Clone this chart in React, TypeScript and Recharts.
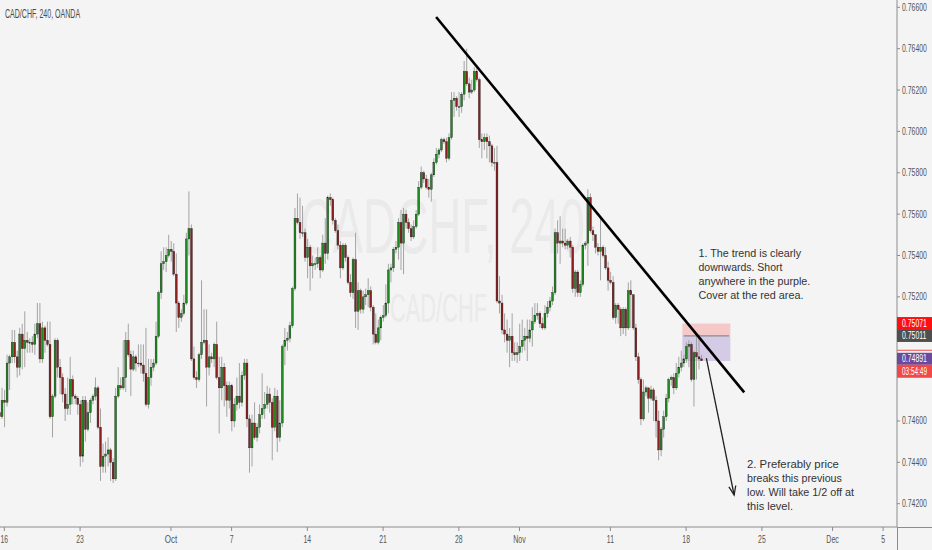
import React from 'react';
import { ComposedChart, Bar, XAxis, YAxis, ReferenceLine, ReferenceArea } from 'recharts';

// 4-hour candles, [open, high, low, close] in pips (price x 10000)
const candlesMidSep = [
  [7464,7470,7453,7462],[7462,7476,7461,7470],[7470,7475,7457,7469],[7469,7492,7467,7488],[7488,7492,7475,7491],
  [7491,7504,7488,7498],[7498,7504,7488,7491],[7491,7494,7481,7486],[7486,7505,7482,7502],[7502,7507,7485,7495],
  [7495,7513,7486,7499],[7499,7503,7493,7498],[7498,7500,7493,7498],[7498,7501,7493,7497],[7497,7507,7492,7502],
  [7502,7517,7500,7507],[7507,7517,7488,7490],[7490,7508,7488,7505],[7505,7506,7493,7499],[7499,7508,7496,7497],
  [7497,7508,7461,7462],[7462,7473,7452,7472],[7472,7500,7471,7499],[7499,7500,7481,7486],[7486,7490,7473,7481],
  [7481,7483,7469,7473],[7473,7476,7460,7466],[7466,7481,7463,7468],[7468,7491,7463,7480],[7480,7482,7468,7472],
  [7472,7473,7468,7471],[7471,7472,7463,7468],[7468,7470,7438,7443],[7443,7472,7440,7470],[7470,7472,7450,7456],
  [7456,7469,7455,7464],[7464,7471,7459,7470],[7470,7473,7468,7472],[7472,7481,7470,7476],[7476,7477,7456,7457],
  [7457,7466,7431,7438],[7438,7449,7435,7443],[7443,7450,7435,7444],[7444,7452,7438,7446],[7446,7447,7431,7440],
  [7440,7442,7430,7432],[7432,7476,7431,7472],[7472,7486,7471,7477],[7477,7481,7475,7476],[7476,7499,7475,7481],
];
const candlesLateSep = [
  [7481,7503,7474,7499],[7499,7507,7491,7492],[7492,7494,7472,7485],[7485,7494,7484,7491],[7491,7492,7484,7488],
  [7488,7497,7486,7488],[7488,7497,7483,7487],[7487,7497,7479,7483],[7483,7505,7467,7468],[7468,7490,7466,7481],
  [7481,7490,7477,7486],[7486,7490,7484,7488],[7488,7508,7487,7501],[7501,7523,7500,7522],[7522,7542,7519,7536],
  [7536,7544,7533,7537],[7537,7544,7532,7540],[7540,7550,7539,7543],[7543,7547,7537,7542],[7542,7546,7530,7531],
  [7531,7541,7503,7517],[7517,7518,7505,7510],[7510,7514,7508,7512],[7512,7521,7511,7517],[7517,7551,7516,7548],
  [7548,7571,7540,7553],[7553,7555,7489,7490],[7490,7496,7480,7481],[7481,7484,7476,7480],[7480,7493,7479,7492],
  [7492,7528,7490,7498],[7498,7514,7497,7499],[7499,7514,7467,7486],[7486,7497,7482,7491],[7491,7493,7488,7490],
  [7490,7498,7486,7497],[7497,7508,7480,7481],[7481,7491,7454,7476],[7476,7491,7470,7486],[7486,7488,7467,7477],
  [7477,7479,7462,7470],[7470,7479,7466,7477],[7477,7478,7455,7460],[7460,7471,7457,7468],[7468,7481,7465,7472],
  [7472,7488,7466,7469],[7469,7484,7467,7482],[7482,7490,7480,7488],
];
const candlesEarlyOct = [
  [7488,7490,7457,7461],[7461,7463,7435,7447],[7447,7463,7438,7459],[7459,7469,7451,7452],[7452,7459,7450,7457],
  [7457,7468,7454,7463],[7463,7483,7461,7466],[7466,7474,7461,7468],[7468,7477,7466,7473],[7473,7476,7464,7469],
  [7469,7471,7441,7457],[7457,7476,7455,7472],[7472,7475,7445,7452],[7452,7470,7450,7459],[7459,7497,7457,7496],
  [7496,7505,7487,7499],[7499,7503,7494,7500],[7500,7508,7498,7506],[7506,7525,7505,7524],[7524,7563,7523,7558],
  [7558,7570,7555,7556],[7556,7568,7548,7551],[7551,7564,7549,7551],[7551,7553,7537,7539],[7539,7548,7529,7544],
  [7544,7545,7523,7535],[7535,7540,7529,7536],[7536,7539,7533,7536],[7536,7544,7534,7539],[7539,7540,7529,7533],
  [7533,7550,7532,7546],[7546,7558,7536,7541],[7541,7569,7538,7568],[7568,7570,7564,7567],[7567,7568,7555,7557],
  [7557,7558,7551,7552],[7552,7555,7543,7545],[7545,7547,7529,7534],[7534,7546,7533,7545],[7545,7546,7537,7539],
  [7539,7540,7526,7527],[7527,7531,7520,7522],[7522,7539,7519,7538],[7538,7551,7505,7513],[7513,7527,7504,7523],
  [7523,7524,7512,7514],[7514,7523,7512,7520],
];
const candlesLateOct = [
  [7520,7524,7516,7521],[7521,7529,7515,7523],[7523,7525,7513,7515],[7515,7516,7497,7502],[7502,7512,7497,7498],
  [7498,7509,7497,7505],[7505,7511,7499,7510],[7510,7516,7508,7511],[7511,7526,7510,7517],[7517,7536,7512,7533],
  [7533,7536,7527,7534],[7534,7544,7532,7543],[7543,7547,7541,7544],[7544,7558,7538,7556],[7556,7562,7533,7546],
  [7546,7563,7531,7560],[7560,7562,7553,7556],[7556,7558,7551,7553],[7553,7555,7547,7549],[7549,7557,7548,7554],
  [7554,7562,7553,7560],[7560,7576,7559,7573],[7573,7583,7572,7580],[7580,7581,7575,7577],[7577,7579,7572,7573],
  [7573,7577,7568,7572],[7572,7580,7566,7579],[7579,7587,7578,7585],[7585,7592,7584,7589],[7589,7592,7587,7591],
  [7591,7597,7590,7596],[7596,7597,7594,7595],[7595,7597,7585,7587],[7587,7599,7586,7597],[7597,7619,7596,7615],
  [7615,7619,7607,7616],[7616,7617,7610,7612],[7612,7619,7607,7612],[7612,7619,7609,7618],[7618,7634,7615,7629],
  [7629,7640,7622,7623],[7623,7626,7616,7619],[7619,7625,7618,7620],[7620,7631,7619,7629],[7629,7631,7624,7625],
  [7625,7626,7592,7596],[7596,7599,7587,7595],[7595,7599,7591,7597],
];
const candlesEarlyNov = [
  [7597,7599,7587,7595],[7595,7598,7585,7593],[7593,7594,7583,7585],[7585,7592,7581,7585],[7585,7593,7517,7518],
  [7518,7530,7512,7517],[7517,7521,7502,7504],[7504,7512,7498,7502],[7502,7509,7493,7499],[7499,7505,7486,7501],
  [7501,7512,7489,7493],[7493,7498,7489,7492],[7492,7498,7488,7493],[7493,7507,7489,7496],[7496,7509,7493,7499],
  [7499,7505,7494,7501],[7501,7509,7489,7500],[7500,7509,7498,7504],[7504,7515,7496,7508],[7508,7517,7507,7511],
  [7511,7517,7509,7512],[7512,7513,7505,7507],[7507,7510,7504,7505],[7505,7516,7504,7512],[7512,7518,7510,7515],
  [7515,7520,7513,7518],[7518,7525,7516,7522],[7522,7553,7521,7551],[7551,7557,7541,7546],[7546,7559,7536,7547],
  [7547,7553,7544,7546],[7546,7553,7543,7545],[7545,7548,7543,7547],[7547,7549,7539,7544],[7544,7545,7522,7524],
  [7524,7533,7520,7532],[7532,7533,7520,7522],[7522,7528,7520,7526],[7526,7546,7525,7545],[7545,7547,7543,7546],
  [7546,7572,7535,7568],[7568,7570,7551,7552],[7552,7554,7547,7550],[7550,7550,7541,7544],[7544,7546,7540,7542],
  [7542,7559,7528,7544],[7544,7545,7539,7540],[7540,7544,7533,7534],[7534,7537,7523,7528],
];
const candlesMidNov = [
  [7528,7532,7526,7527],[7527,7530,7509,7510],[7510,7517,7507,7516],[7516,7517,7507,7514],[7514,7515,7501,7505],
  [7505,7515,7502,7514],[7514,7515,7501,7505],[7505,7527,7504,7523],[7523,7528,7505,7521],[7521,7521,7504,7505],
  [7505,7507,7489,7491],[7491,7493,7478,7480],[7480,7481,7458,7461],[7461,7480,7460,7474],[7474,7477,7472,7476],
  [7476,7476,7464,7471],[7471,7477,7470,7475],[7475,7476,7460,7470],[7470,7472,7452,7460],[7460,7465,7441,7446],
  [7446,7457,7443,7456],[7456,7465,7452,7462],[7462,7473,7460,7471],[7471,7481,7469,7480],[7480,7482,7477,7481],
  [7481,7483,7473,7476],[7476,7488,7475,7483],[7483,7491,7481,7486],[7486,7494,7484,7488],[7488,7492,7486,7490],
  [7490,7498,7488,7496],[7496,7499,7486,7497],[7497,7498,7479,7480],[7480,7494,7467,7493],[7493,7502,7480,7491],
  [7491,7502,7485,7490],[7490,7492,7489,7489.1],
];

const dateTickIdx = [2, 32, 68, 92, 122, 152, 182, 206, 242, 272, 302, 330, 350];
const dateTickLabels = ['16', '23', 'Oct', '7', '14', '21', '28', 'Nov', '11', '18', '25', 'Dec', '5'];
const priceTicks = [0.742, 0.744, 0.746, 0.752, 0.754, 0.756, 0.758, 0.76, 0.762, 0.764, 0.766];
const stopLevel = 0.75071;
const entryLevel = 0.75011;
const targetLevel = 0.7489;
const lastPrice = 0.74891;
const countdown = '03:54:49';
const trendLine = [{ x: 173, y: 0.76553 }, { x: 295, y: 0.74738 }];
const arrowLine = [{ x: 280, y: 0.74904 }, { x: 291, y: 0.74242 }];
const positionBox = [271, 289];
const SLOTS = 356;
const Y_DOMAIN = [0.740873, 0.766353];

const allCandles = [
  ...candlesMidSep, ...candlesLateSep, ...candlesEarlyOct,
  ...candlesLateOct, ...candlesEarlyNov, ...candlesMidNov,
];
const data = Array.from({ length: SLOTS }, (_, i) => {
  const c = allCandles[i];
  return c ? { i, o: c[0] / 1e4, h: c[1] / 1e4, l: c[2] / 1e4, c: c[3] / 1e4 } : { i };
});

const FONT = 'Liberation Sans, Arial, sans-serif';
const AXIS = '#8c8c8c';

// Arial/Liberation Sans advance widths (em) used to squeeze text horizontally like the screenshot
const W: Record<string, number> = {
  ' ': 0.278, '.': 0.278, ',': 0.278, ':': 0.278, '/': 0.278,
  A: 0.667, C: 0.722, D: 0.722, F: 0.611, H: 0.722, N: 0.722, O: 0.778, T: 0.611, S: 0.667, W: 0.944, P: 0.667,
  a: 0.556, b: 0.556, c: 0.5, d: 0.556, e: 0.556, f: 0.278, g: 0.556, h: 0.556, i: 0.222, k: 0.5, l: 0.222,
  m: 0.833, n: 0.556, o: 0.556, p: 0.556, r: 0.333, s: 0.5, t: 0.278, u: 0.556, v: 0.5, w: 0.722, y: 0.5,
};
const natural = (s: string, fs: number) =>
  s.split('').reduce((a, ch) => a + (W[ch] ?? (/[0-9]/.test(ch) ? 0.556 : 0.6)), 0) * fs;

const SqText = ({ x, y, w, fs, fill, anchor, children }: any) => {
  const sx = w / natural(String(children), fs);
  return (
    <text transform={`translate(${x},${y}) scale(${sx.toFixed(4)},1)`} x={0} y={0} fontSize={fs}
      fontFamily={FONT} fill={fill} textAnchor={anchor || 'start'}>{children}</text>
  );
};

const Candle = (props: any) => {
  const { x, y, width, height, payload } = props;
  if (!payload || payload.h == null || x == null || isNaN(y)) return null;
  const { o, h, l, c } = payload;
  const top0 = Math.min(y, y + height);
  const span = Math.abs(height);
  const cx = x + width / 2;
  const k = h - l > 0 ? span / (h - l) : 0;
  const bTop = top0 + (h - Math.max(o, c)) * k;
  const bBot = top0 + (h - Math.min(o, c)) * k;
  const up = c >= o;
  return (
    <g>
      <line x1={cx} x2={cx} y1={top0} y2={top0 + span} stroke="#9b9b9b" strokeWidth={0.9} />
      <rect x={cx - 0.95} y={bTop} width={1.9} height={Math.max(bBot - bTop, 0.8)}
        fill={up ? '#1f8a1f' : '#8c1f1f'} stroke="#1a1a1a" strokeWidth={0.35} />
    </g>
  );
};

const XTick = (props: any) => {
  const { x, y, payload } = props;
  const k = dateTickIdx.indexOf(payload.value);
  if (k < 0) return <g />;
  const label = dateTickLabels[k];
  const w = /^[0-9]+$/.test(label) ? label.length * 3.8 : 12.5;
  return (
    <g>
      <line x1={x} x2={x} y1={y} y2={y + 4} stroke={AXIS} strokeWidth={1} />
      <SqText x={x} y={y + 16} w={w} fs={10} fill="#555" anchor="middle">{label}</SqText>
    </g>
  );
};

const YTick = (props: any) => {
  const { x, y, payload } = props;
  const v = payload.value;
  const ax = x - 5;
  const txt = (fill: string, dy: number, s: string) => (
    <SqText x={ax + 5} y={y + dy} w={25} fs={10} fill={fill}>{s}</SqText>
  );
  if (v === stopLevel) {
    return <g><rect x={ax} y={y - 6.5} width={35} height={13} fill="#ff1010" />{txt('#fff', 3.5, v.toFixed(5))}</g>;
  }
  if (v === entryLevel) {
    return <g><rect x={ax} y={y - 6} width={35} height={12} fill="#4f4f4f" />{txt('#fff', 3.5, v.toFixed(5))}</g>;
  }
  if (v === lastPrice) {
    return (
      <g>
        <line x1={ax} x2={ax + 35} y1={y - 10.5} y2={y - 10.5} stroke="#f25050" strokeWidth={1} />
        <rect x={ax} y={y - 8} width={35} height={12} fill="#6b4a9e" />
        {txt('#fff', 1.5, v.toFixed(5))}
        <rect x={ax} y={y + 4} width={35} height={13} fill="#f24848" />
        {txt('#fff', 14, countdown)}
      </g>
    );
  }
  return (
    <g>
      <line x1={ax} x2={ax + 3} y1={y} y2={y} stroke={AXIS} strokeWidth={1} />
      {txt('#555', 3.5, v.toFixed(5))}
    </g>
  );
};

const Arrow = (props: any) => {
  const { x1, y1, x2, y2 } = props;
  if ([x1, y1, x2, y2].some((v) => v == null || isNaN(v))) return null;
  const dx = x2 - x1, dy = y2 - y1;
  const len = Math.sqrt(dx * dx + dy * dy) || 1;
  const ux = dx / len, uy = dy / len;
  const hl = 9, hw = 3.5;
  const bx = x2 - ux * hl, by = y2 - uy * hl;
  return (
    <g>
      <line x1={x1} y1={y1} x2={x2} y2={y2} stroke="#222" strokeWidth={1.3} />
      <path d={`M${bx - uy * hw},${by + ux * hw} L${x2},${y2} L${bx + uy * hw},${by - ux * hw}`}
        fill="none" stroke="#222" strokeWidth={1.3} />
    </g>
  );
};

const note1 = [
  { t: '1. The trend is clearly', w: 103 },
  { t: 'downwards. Short', w: 84 },
  { t: 'anywhere in the purple.', w: 112 },
  { t: 'Cover at the red area.', w: 105 },
];
const note2 = [
  { t: '2. Preferably price', w: 92 },
  { t: 'breaks this previous', w: 95 },
  { t: 'low. Will take 1/2 off at', w: 108 },
  { t: 'this level.', w: 46 },
];

export default function App() {
  return (
    <div style={{ position: 'fixed', left: 0, top: 0, width: 932, height: 550, background: '#f4f4f4', overflow: 'hidden' }}>
      <svg width={932} height={550} style={{ position: 'absolute', left: 0, top: 0 }}>
        <SqText x={300} y={253} w={290} fs={78} fill="#eaeaea">CADCHF, 240</SqText>
        <SqText x={390} y={322} w={97} fs={40} fill="#eaeaea">CAD/CHF</SqText>
      </svg>
      <div style={{ position: 'absolute', left: -2, top: 0 }}>
        <ComposedChart width={934} height={550} data={data} margin={{ top: 0, right: 0, bottom: 0, left: 0 }}
          barCategoryGap={0} barGap={0}>
          <XAxis dataKey="i" type="category" interval={0} tickLine={false} tickSize={0} tickMargin={0}
            axisLine={{ stroke: AXIS }} height={23} tick={XTick} />
          <YAxis orientation="right" type="number" domain={Y_DOMAIN} allowDataOverflow width={35}
            ticks={[...priceTicks, stopLevel, entryLevel, lastPrice]} interval={0}
            tickLine={false} tickSize={0} tickMargin={5} axisLine={{ stroke: AXIS }} tick={YTick} />
          <ReferenceArea x1={positionBox[0]} x2={positionBox[1]} y1={entryLevel} y2={stopLevel}
            fill="#ff2020" fillOpacity={0.2} stroke="none" ifOverflow="visible" />
          <ReferenceArea x1={positionBox[0]} x2={positionBox[1]} y1={targetLevel} y2={entryLevel}
            fill="#5a2ab0" fillOpacity={0.2} stroke="none" ifOverflow="visible" />
          <Bar dataKey={(d: any) => (d.h != null ? [d.l, d.h] : null)} shape={Candle} isAnimationActive={false} />
          <ReferenceLine segment={[{ x: positionBox[0], y: entryLevel }, { x: positionBox[1], y: entryLevel }]}
            stroke="#8a8a8a" strokeWidth={1.2} ifOverflow="visible" />
          <ReferenceLine segment={trendLine} stroke="#000" strokeWidth={2.6} ifOverflow="visible" />
          <ReferenceLine segment={arrowLine} shape={Arrow} ifOverflow="visible" />
        </ComposedChart>
      </div>
      <svg width={932} height={550} style={{ position: 'absolute', left: 0, top: 0, pointerEvents: 'none' }}>
        <SqText x={5} y={18} w={76} fs={12} fill="#4a4a4a">CAD/CHF, 240, OANDA</SqText>
        <line x1={897} x2={932} y1={527.5} y2={527.5} stroke={AXIS} strokeWidth={1} />
        <line x1={897.5} x2={897.5} y1={527} y2={550} stroke={AXIS} strokeWidth={1} />
        {note1.map((n, k) => (
          <SqText key={k} x={698.5} y={257 + k * 14} w={n.w} fs={11.5} fill="#333">{n.t}</SqText>
        ))}
        {note2.map((n, k) => (
          <SqText key={k} x={747} y={467.5 + k * 14} w={n.w} fs={11.5} fill="#333">{n.t}</SqText>
        ))}
      </svg>
    </div>
  );
}
